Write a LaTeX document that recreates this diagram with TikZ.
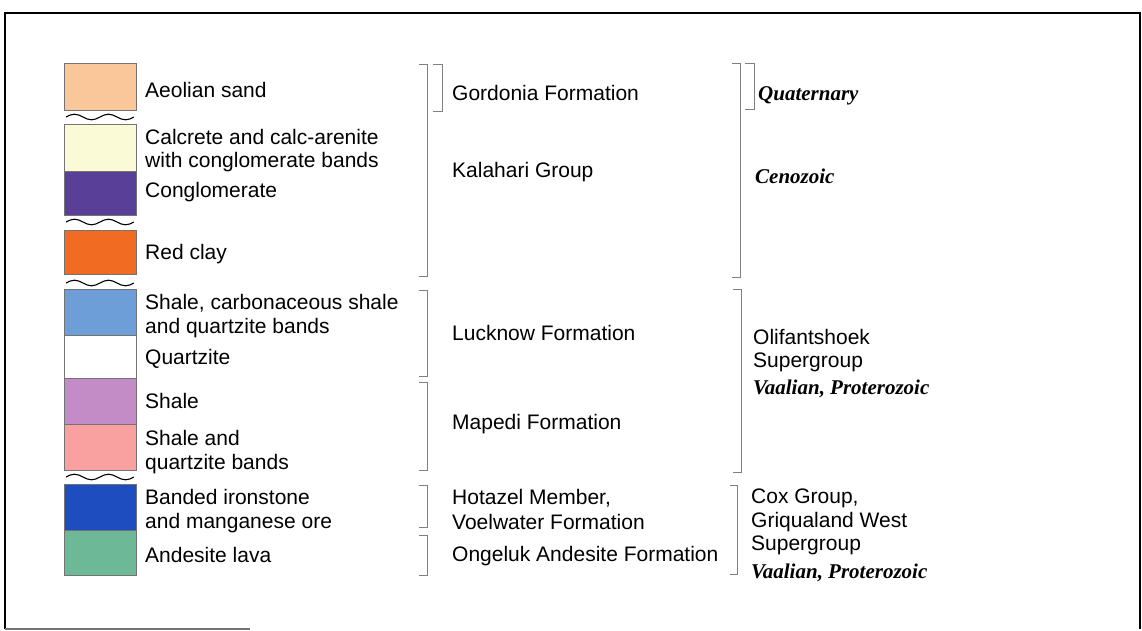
\documentclass[tikz,border=0pt]{standalone}
\usepackage{fontspec}
\setmainfont{Liberation Sans}
\newfontfamily\tnr{Liberation Serif}
\definecolor{cAeol}{HTML}{F9C79A}
\definecolor{cCalc}{HTML}{FBFAD6}
\definecolor{cCong}{HTML}{5A3F98}
\definecolor{cRed}{HTML}{F26B22}
\definecolor{cShC}{HTML}{6E9ED8}
\definecolor{cQtz}{HTML}{FFFFFF}
\definecolor{cSh}{HTML}{C48CC6}
\definecolor{cShQ}{HTML}{F9A1A1}
\definecolor{cBIF}{HTML}{1E4DC0}
\definecolor{cAnd}{HTML}{6DB896}
\definecolor{brkgray}{HTML}{808080}
\tikzset{
  lbl/.style={anchor=base west, inner sep=0pt, font=\fontsize{21}{24}\selectfont},
  age/.style={anchor=base west, inner sep=0pt, font=\fontsize{21}{24}\selectfont\tnr\bfseries\itshape},
  swatch/.style={draw=black!55, line width=0.6pt},
  brk/.style={draw=brkgray, line width=1pt},
  wavy/.style={draw=black, line width=1.1pt},
  frameline/.style={draw=black, line width=2pt}
}
\begin{document}
\begin{tikzpicture}[x=1pt,y=-1pt]
\useasboundingbox (0,0) rectangle (1142,630);
% frame
\draw[frameline] (5,629) -- (5,12.5) -- (1140,12.5) -- (1140,629);
\draw[draw=black!55, line width=1.2pt] (5,629) -- (250,629);
% swatches
\filldraw[swatch, fill=cAeol] (64,63) rectangle (136,110);
\filldraw[swatch, fill=cCalc] (64,124) rectangle (136,171);
\filldraw[swatch, fill=cCong] (64,171) rectangle (136,215);
\filldraw[swatch, fill=cRed] (64,230) rectangle (136,274);
\filldraw[swatch, fill=cShC] (64,289) rectangle (136,335);
\filldraw[swatch, fill=cQtz] (64,335) rectangle (136,378);
\filldraw[swatch, fill=cSh] (64,378) rectangle (136,424);
\filldraw[swatch, fill=cShQ] (64,424) rectangle (136,470);
\filldraw[swatch, fill=cBIF] (64,484) rectangle (136,530);
\filldraw[swatch, fill=cAnd] (64,530) rectangle (136,575);
% unconformities
\foreach \yy in {117,222,283,477}{
  \draw[wavy] (66,\yy) sin (74.5,\yy-2.8) cos (83,\yy) sin (91.5,\yy+2.8) cos (100,\yy)
    sin (108.5,\yy-2.8) cos (117,\yy) sin (125.5,\yy+2.8) cos (134,\yy);
}
% left labels
\node[lbl] (aeol) at (145,97) {Aeolian sand};
\node[lbl] (calc1) at (145,144) {Calcrete and calc-arenite};
\node[lbl] (calc2) at (145,167) {with conglomerate bands};
\node[lbl] (cong) at (145,197) {Conglomerate};
\node[lbl] (red) at (145,259) {Red clay};
\node[lbl] (shc1) at (145,309) {Shale, carbonaceous shale};
\node[lbl] (shc2) at (145,333) {and quartzite bands};
\node[lbl] (qtz) at (145,364) {Quartzite};
\node[lbl] (sh) at (145,408) {Shale};
\node[lbl] (shq1) at (145,445) {Shale and};
\node[lbl] (shq2) at (145,469) {quartzite bands};
\node[lbl] (bif1) at (145,504) {Banded ironstone};
\node[lbl] (bif2) at (145,528) {and manganese ore};
\node[lbl] (andl) at (145,562) {Andesite lava};
% middle brackets
\draw[brk] (419,64) -- (427,64) -- (427,276) -- (419,276);
\draw[brk] (433,64) -- (442,64) -- (442,111) -- (433,111);
\draw[brk] (419,290) -- (427,290) -- (427,376) -- (419,376);
\draw[brk] (419,382) -- (427,382) -- (427,470) -- (419,470);
\draw[brk] (419,485) -- (427,485) -- (427,527) -- (419,527);
\draw[brk] (419,535) -- (427,535) -- (427,575) -- (419,575);
% middle labels
\node[lbl] (gord) at (452,100) {Gordonia Formation};
\node[lbl] (kala) at (452,177) {Kalahari Group};
\node[lbl] (luck) at (452,340) {Lucknow Formation};
\node[lbl] (mape) at (452,429) {Mapedi Formation};
\node[lbl] (hota1) at (452,504) {Hotazel Member,};
\node[lbl] (hota2) at (452,529) {Voelwater Formation};
\node[lbl] (onge) at (452,561) {Ongeluk Andesite Formation};
% right brackets
\draw[brk] (732,63) -- (740,63) -- (740,277) -- (732,277);
\draw[brk] (745,63) -- (754,63) -- (754,109) -- (745,109);
\draw[brk] (733,289) -- (741,289) -- (741,472) -- (733,472);
\draw[brk] (730,485) -- (737,485) -- (737,574) -- (730,574);
% right labels
\node[age] (quat) at (758,100) {Quaternary};
\node[age] (ceno) at (755,183) {Cenozoic};
\node[lbl] (olif1) at (753,344) {Olifantshoek};
\node[lbl] (olif2) at (753,367) {Supergroup};
\node[age] (vaal1) at (753,394) {Vaalian, Proterozoic};
\node[lbl] (cox1) at (751,503) {Cox Group,};
\node[lbl] (cox2) at (751,527) {Griqualand West};
\node[lbl] (cox3) at (751,550) {Supergroup};
\node[age] (vaal2) at (751,578) {Vaalian, Proterozoic};
\end{tikzpicture}
\end{document}
